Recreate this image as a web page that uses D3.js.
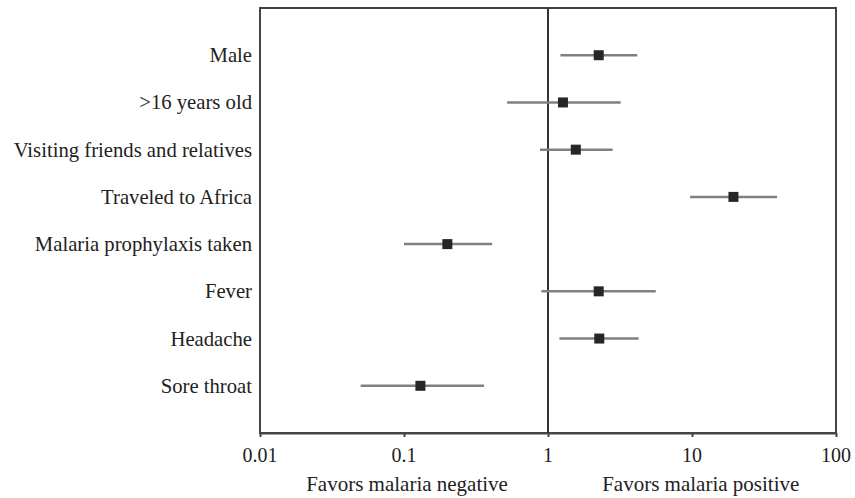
<!DOCTYPE html>
<html>
<head>
<meta charset="utf-8">
<script src="https://cdn.jsdelivr.net/npm/d3@7"></script>
</head>
<body style="margin:0;background:#fff">
<svg id="chart" width="855" height="498"></svg>
<script>
const categories = ["Male", ">16 years old", "Visiting friends and relatives", "Traveled to Africa",
  "Malaria prophylaxis taken", "Fever", "Headache", "Sore throat"];
const oddsRatio = [2.25, 1.27, 1.56, 19.4, 0.2, 2.25, 2.27, 0.13];
const ciLow = [1.22, 0.52, 0.88, 9.7, 0.1, 0.9, 1.2, 0.05];
const ciHigh = [4.17, 3.2, 2.81, 39, 0.41, 5.6, 4.26, 0.36];
const tickValues = [0.01, 0.1, 1, 10, 100];
const tickLabels = ["0.01", "0.1", "1", "10", "100"];
const favorLabels = ["Favors malaria negative", "Favors malaria positive"];
const favorAt = [0.105, 11.5];

const FONT = "'Times New Roman', 'Liberation Serif', serif";
const svg = d3.select("#chart");
const pL = 260, pR = 836, pT = 8, pB = 433;

const x = d3.scaleLog().domain([0.01, 100]).range([pL, pR]);
const y = d3.scaleLinear().domain([0, categories.length + 1]).range([pT, pB]);

// frame
svg.append("rect")
  .attr("x", pL).attr("y", pT)
  .attr("width", pR - pL).attr("height", pB - pT)
  .attr("fill", "none").attr("stroke", "#444").attr("stroke-width", 2);

// axis line and ticks
const axis = svg.append("g")
  .attr("transform", `translate(0,${pB})`)
  .call(d3.axisBottom(x).tickValues(tickValues)
    .tickFormat(() => "").tickSizeInner(4).tickSizeOuter(0));
axis.select(".domain").attr("stroke", "#444").attr("stroke-width", 2);
axis.selectAll(".tick line").attr("stroke", "#444").attr("stroke-width", 2);
axis.selectAll(".tick text").remove();

// tick labels
svg.selectAll("text.tick-label")
  .data(tickValues)
  .join("text")
  .attr("class", "tick-label")
  .attr("x", d => x(d))
  .attr("y", 462)
  .attr("text-anchor", "middle")
  .style("font-family", FONT)
  .style("font-size", "20px")
  .attr("fill", "#222")
  .text((d, i) => tickLabels[i]);

// reference line at 1
svg.append("line")
  .attr("x1", x(1)).attr("x2", x(1))
  .attr("y1", pT).attr("y2", pB)
  .attr("stroke", "#333").attr("stroke-width", 2);

// category labels
svg.selectAll("text.cat")
  .data(categories)
  .join("text")
  .attr("class", "cat")
  .attr("x", pL - 8)
  .attr("y", (d, i) => y(i + 1) + 7)
  .attr("text-anchor", "end")
  .style("font-family", FONT)
  .style("font-size", "20.7px")
  .attr("fill", "#222")
  .text(d => d);

// CI lines
svg.selectAll("line.ci")
  .data(categories)
  .join("line")
  .attr("class", "ci")
  .attr("x1", (d, i) => x(ciLow[i]))
  .attr("x2", (d, i) => x(ciHigh[i]))
  .attr("y1", (d, i) => y(i + 1))
  .attr("y2", (d, i) => y(i + 1))
  .attr("stroke", "#808080").attr("stroke-width", 2.5);

// point estimates
const sq = 10;
svg.selectAll("rect.pt")
  .data(categories)
  .join("rect")
  .attr("class", "pt")
  .attr("x", (d, i) => x(oddsRatio[i]) - sq / 2)
  .attr("y", (d, i) => y(i + 1) - sq / 2)
  .attr("width", sq).attr("height", sq)
  .attr("fill", "#262626");

// favors labels
svg.selectAll("text.favor")
  .data(favorLabels)
  .join("text")
  .attr("class", "favor")
  .attr("x", (d, i) => x(favorAt[i]))
  .attr("y", 491)
  .attr("text-anchor", "middle")
  .style("font-family", FONT)
  .style("font-size", "21px")
  .attr("fill", "#222")
  .text(d => d);
</script>
</body>
</html>
